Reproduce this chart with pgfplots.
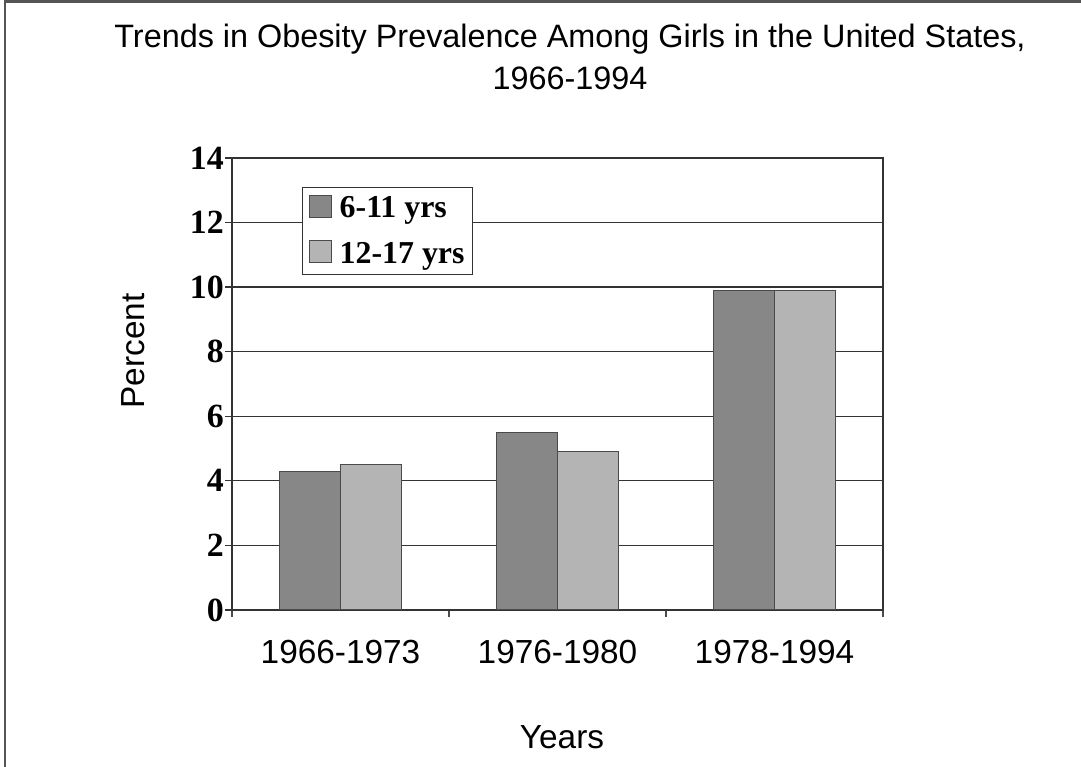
\documentclass[border=0pt]{standalone}
\usepackage{fontspec}
\setmainfont{Liberation Serif}
\newfontfamily\arial{Liberation Sans}
\usepackage{pgfplots}
\pgfplotsset{compat=1.18}
\definecolor{darkbar}{HTML}{878787}
\definecolor{lightbar}{HTML}{B4B4B4}
\definecolor{edge}{HTML}{4A4A4A}
\definecolor{frame}{HTML}{555555}
\begin{document}
\begin{tikzpicture}[x=1bp,y=1bp]
\path[use as bounding box] (0,0) rectangle (1081,767);
\draw[frame, line width=2.5bp] (5,0) -- (5,765.5) -- (1081,765.5);
\node[align=center, font={\arial\fontsize{32.5}{43}\selectfont}] at (570,710)
  {Trends in Obesity Prevalence Among Girls in the United States,\\1966-1994};
\node[rotate=90, font={\arial\fontsize{33.5}{33.5}\selectfont}] at (133,416) {Percent};
\node[font={\arial\fontsize{33.5}{33.5}\selectfont}] at (562,30) {Years};
\begin{axis}[
  at={(232bp,157bp)}, anchor=south west,
  width=651bp, height=452bp, scale only axis,
  ybar=0pt, bar width=61bp,
  xmin=-0.5, xmax=2.5, ymin=0, ymax=14,
  xtick={0,1,2},
  xticklabels={1966-1973,1976-1980,1978-1994},
  minor xtick={-0.5,0.5,1.5,2.5},
  ytick={0,2,...,14},
  /pgf/number format/assume math mode=true,
  ymajorgrids,
  grid style={line width=1.3bp, color=black!80},
  axis line style={line width=1.3bp, color=black!80},
  tick align=outside, tick pos=left,
  major x tick style={draw=none},
  minor x tick style={line width=1.3bp, color=black!70},
  minor tick length=7bp,
  major y tick style={line width=1.3bp, color=black!80},
  major tick length=7bp,
  yticklabel style={font={\fontsize{34}{34}\bfseries\selectfont}, inner sep=1bp},
  xticklabel style={font={\arial\fontsize{33.5}{33.5}\selectfont}, yshift=-20bp},
  legend style={at={(0.1075,0.936)}, anchor=north west,
    draw=black!80, line width=1.2bp, inner xsep=6bp, inner ysep=7bp,
    font={\fontsize{32}{32}\bfseries\selectfont}, row sep=19bp},
  legend cell align=left,
  legend image code/.code={\draw[#1, line width=1bp] (0bp,-9bp) rectangle (22bp,13bp);
     \path (28bp,0bp);},
]
\addplot[fill=darkbar, draw=edge, line width=1.3bp] coordinates {(0,4.3) (1,5.5) (2,9.9)};
\addplot[fill=lightbar, draw=edge, line width=1.3bp] coordinates {(0,4.5) (1,4.9) (2,9.9)};
\legend{6-11 yrs,12-17 yrs}
\end{axis}
\end{tikzpicture}
\end{document}
